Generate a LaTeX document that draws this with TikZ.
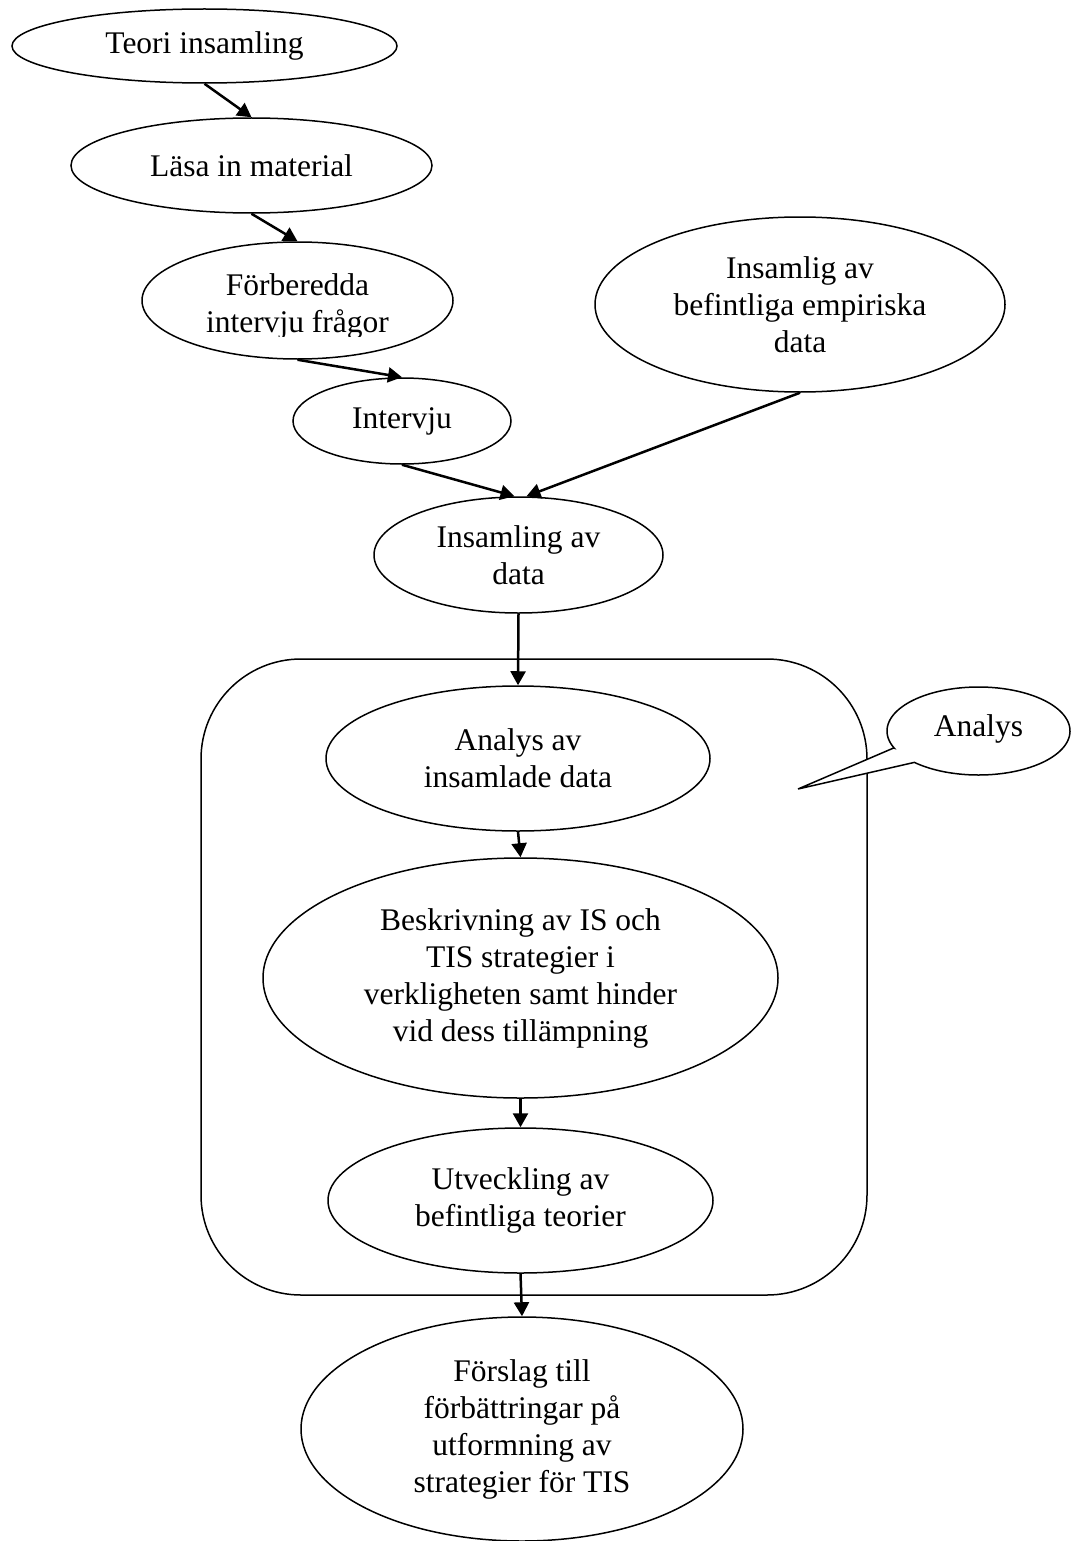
\documentclass[tikz,border=0pt]{standalone}
\usepackage{fontspec}
\setmainfont{Liberation Serif}
\usetikzlibrary{shapes.geometric,arrows.meta}
\begin{document}
\begin{tikzpicture}[x=1pt,y=-1pt,
  oval/.style={draw, ellipse, line width=1.5pt, inner sep=0pt, align=center, font=\fontsize{31.5}{37}\selectfont},
  lbl/.style={inner sep=0pt, align=center, font=\fontsize{31.5}{37}\selectfont},
  flow/.style={line width=2.5pt, -{Triangle[length=14pt,width=15pt]}},
  frame/.style={draw, line width=1.5pt, rounded corners=100pt, inner sep=0pt}
  ]
\useasboundingbox (0,0) rectangle (1072,1541);
\fill[white] (0,0) rectangle (1072,1541);

% frame around the analysis part
\node[frame, minimum width=666pt, minimum height=636pt] (box) at (534,977) {};

% ellipses
\node[oval, minimum width=385pt, minimum height=74pt] (teori) at (204.5,46) {Teori insamling};
\node[oval, minimum width=361pt, minimum height=95pt] (lasa) at (251.5,165.5) {Läsa in material};
\node[oval, minimum width=311pt, minimum height=117pt] (forb) at (297.5,300.5) {};
\begin{scope}
  \clip (0,0) rectangle (1072,336);
  \node[lbl] (forbtext) at (297.5,306) {Förberedda\\intervju frågor};
\end{scope}
\node[oval, minimum width=218pt, minimum height=86pt] (interv) at (402,421) {Intervju};
\node[oval, minimum width=410pt, minimum height=175pt] (insamlig) at (800,304.5) {Insamlig av\\befintliga empiriska\\data};
\node[oval, minimum width=289pt, minimum height=116pt] (ins) at (518.5,555) {Insamling av\\data};
\node[oval, minimum width=384pt, minimum height=145pt] (analys) at (518,758.5) {Analys av\\insamlade data};
\node[oval, minimum width=515pt, minimum height=240pt] (beskr) at (520.5,978) {Beskrivning av IS och\\TIS strategier i\\verkligheten samt hinder\\vid dess tillämpning};
\node[oval, minimum width=385pt, minimum height=145pt] (utv) at (520.5,1200.5) {Utveckling av\\befintliga teorier};
\node[oval, minimum width=442pt, minimum height=224pt] (forslag) at (522,1429) {Förslag till\\förbättringar på\\utformning av\\strategier för TIS};

% callout
\filldraw[fill=white, line width=1.5pt, line join=miter]
  (798,789) -- (893.6,748)
  -- plot[domain=157:494.5, samples=160] ({978.5+91.5*cos(\x)},{731+44*sin(\x)})
  -- cycle;
\node[lbl] (callout) at (978.5,729) {Analys};

% connectors
\draw[flow] (teori.south) -- (lasa.north);
\draw[flow] (lasa.south) -- (forb.north);
\draw[flow] (forb.south) -- (interv.north);
\draw[flow] (interv.south) -- ([xshift=-4pt]ins.north);
\draw[flow] (insamlig.south) -- ([xshift=8pt]ins.north);
\draw[flow] (ins.south) -- (analys.north);
\draw[flow] (analys.south) -- (beskr.north);
\draw[flow] (beskr.south) -- (utv.north);
\draw[flow] (utv.south) -- (forslag.north);
\end{tikzpicture}
\end{document}
